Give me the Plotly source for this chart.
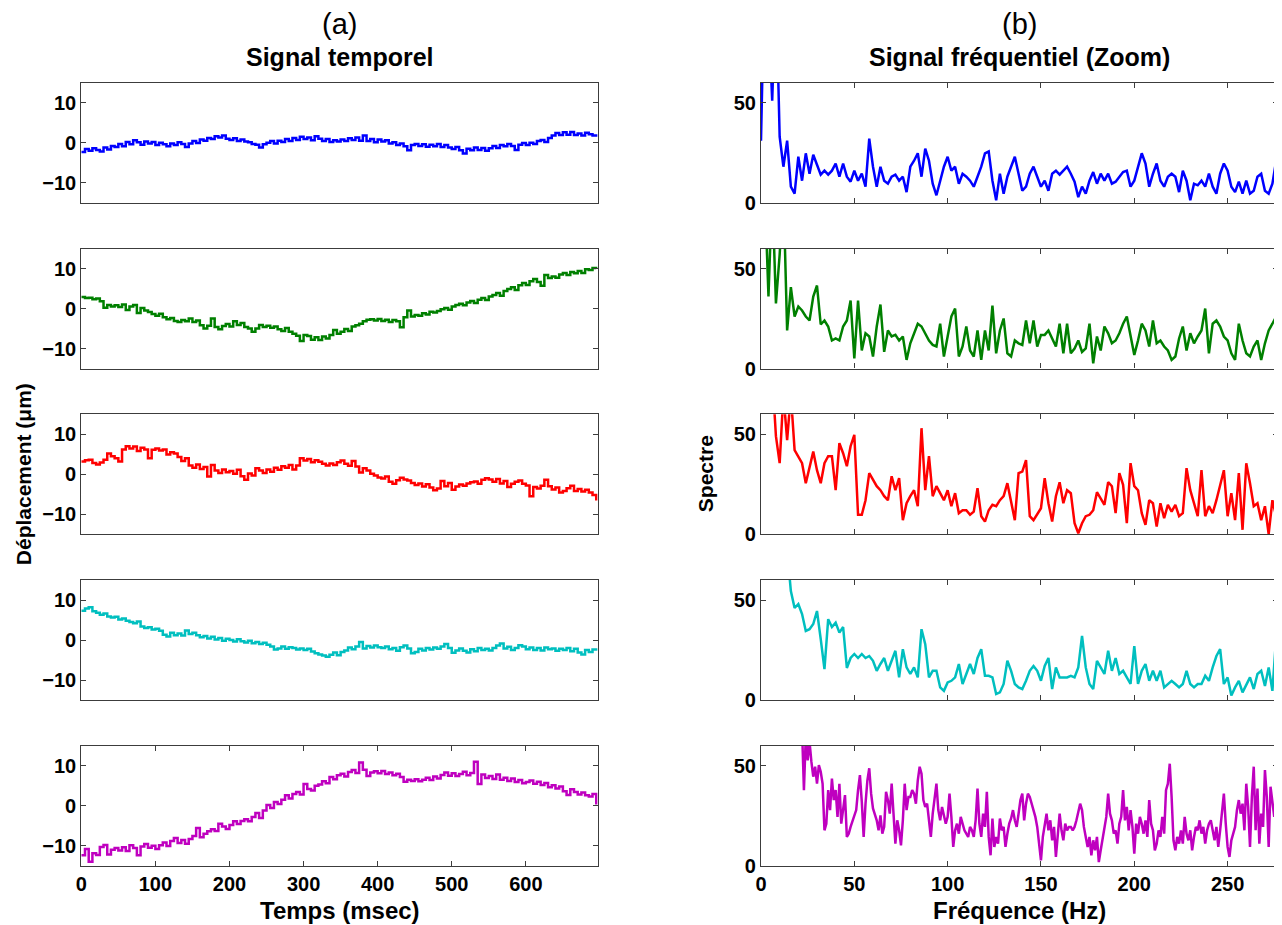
import plotly.graph_objects as go
from plotly.subplots import make_subplots

# --- (a) displacement signals, one sample every 5 ms (µm) ---
disp_blue = [-2.3, -1.6, -2.0, -1.4, -1.8, -2.2, -1.2, -1.7, -0.8, -1.1,
             -0.3, -0.9, 0.2, -0.4, 0.6, 0.1, -0.5, 0.3, -0.2, 0.2,
             -0.6, 0.0, -0.4, -0.9, -0.2, -0.6, 0.1, -0.3, -1.1, -0.2,
             0.4, -0.1, 0.8, 0.5, 1.2, 0.9, 1.6, 1.3, 1.8, 1.0,
             0.7, 1.1, 0.4, 0.8, 0.3, 0.1, -0.3, -0.5, -1.2, -0.4,
             0.0, 0.4, -0.2, 0.5, 0.2, 0.9, 0.4, 1.2, 0.7, 1.5,
             0.9, 1.3, 0.6, 1.6, 1.0, 0.4, 0.9, 0.2, 0.6, 0.3,
             0.8, 0.4, 1.1, 0.7, 1.3, 0.5, 1.8, 0.4, 0.9, 0.1,
             0.8, 0.3, 0.6, -0.2, 0.1, -0.6, -0.2, -0.9, -1.9, -0.6,
             -0.3, -0.8, -0.4, -1.0, -0.5, -0.9, -0.3, -1.1, -0.6, -1.2,
             -1.6, -1.1, -1.9, -2.7, -1.5, -1.9, -1.2, -1.8, -1.3, -2.0,
             -1.4, -0.8, -1.3, -0.6, -0.9, -0.3, -0.8, -1.8, -0.5, -0.1,
             -0.6, 0.0, -0.3, 0.4, 0.7, 0.2, 1.2, 1.8, 2.4, 1.9,
             2.6, 2.0, 2.7, 1.9, 2.3, 1.8, 2.5, 2.1, 1.8, 1.5]

disp_green = [2.9, 2.6, 2.7, 2.3, 2.5, 1.8, 0.2, 0.9, 0.5, 0.8,
              0.4, 1.0, -0.4, 0.5, 0.9, -1.1, 0.1, -0.5, -0.9, -1.4,
              -1.8, -1.3, -2.2, -2.7, -2.4, -3.1, -3.4, -2.9, -3.2, -2.5,
              -3.4, -3.0, -4.2, -5.0, -4.3, -2.5, -4.6, -5.2, -4.4, -3.9,
              -4.5, -3.2, -4.1, -3.6, -4.6, -5.0, -5.8, -5.0, -4.1, -4.6,
              -4.3, -4.8, -4.5, -5.2, -5.6, -4.9, -5.8, -6.3, -6.8, -8.1,
              -6.6, -6.9, -7.8, -7.2, -7.9, -7.0, -7.5, -6.6, -5.4, -6.3,
              -5.8, -5.1, -5.6, -4.5, -4.2, -3.8, -3.2, -2.8, -2.7, -3.0,
              -2.6, -3.1, -2.8, -3.4, -2.9, -3.2, -4.7, -2.2, -0.5, -2.0,
              -1.6, -1.8, -1.2, -1.5, -0.8, -1.0, -0.6, -0.2, 0.1, -0.3,
              0.5, 0.9, 1.2, 0.8, 1.5, 1.9, 1.4, 2.2, 2.6, 2.1,
              3.0, 3.4, 3.9, 3.2, 4.4, 4.9, 5.3, 4.6, 5.8, 6.4,
              5.9, 6.8, 7.4, 6.6, 5.7, 8.4, 7.6, 8.0, 7.7, 8.5,
              8.9, 8.4, 9.1, 8.8, 9.4, 8.9, 9.8, 9.6, 10.1, 10.0]

disp_red = [3.2, 3.5, 3.6, 2.8, 2.4, 2.9, 3.6, 5.2, 4.5, 4.0,
            3.2, 6.2, 7.0, 6.4, 6.9, 5.8, 6.6, 6.2, 4.0, 6.1,
            6.4, 5.9, 6.2, 4.9, 5.5, 5.2, 4.3, 3.3, 4.0, 2.2,
            1.6, 2.4, 1.3, 1.8, -0.6, 2.3, 0.9, 0.3, 1.2, 0.5,
            0.8, 0.1, 1.1, -0.5, -1.4, 0.2, -0.3, 1.5, 0.9, 0.3,
            1.2, 0.6, 1.6, 1.1, 2.0, 1.6, 2.3, 1.2, 2.2, 4.0,
            3.4, 3.8, 3.0, 3.5, 3.1, 2.6, 2.2, 2.7, 2.3, 3.0,
            3.4, 2.6, 2.1, 3.3, 1.9, 0.4, 1.5, 0.9, 0.1, -0.3,
            -0.8, -1.1, -0.6, -1.9, -2.4, -1.5, -0.9, -1.3, -1.6, -2.2,
            -2.7, -2.3, -3.1, -2.5, -3.3, -4.0, -3.6, -1.7, -3.0, -2.2,
            -3.9, -3.1, -2.6, -2.9, -2.3, -2.0, -1.8, -2.4, -1.4, -1.0,
            -1.3, -1.9, -1.2, -2.3, -1.7, -3.2, -2.4, -1.9, -1.6, -2.4,
            -2.8, -5.5, -3.2, -3.6, -2.9, -1.4, -3.0, -3.8, -3.3, -4.6,
            -4.2, -3.5, -2.9, -4.2, -3.7, -4.3, -3.9, -4.6, -5.2, -6.6]

disp_cyan = [7.3, 7.9, 8.2, 7.2, 6.8, 6.3, 6.6, 5.9, 5.6, 5.8,
             5.1, 5.4, 4.8, 4.5, 4.2, 4.6, 3.4, 3.0, 3.2, 2.6,
             2.8, 2.3, 1.3, 0.9, 1.8, 1.2, 1.6, 1.1, 2.4, 1.5,
             1.8, 1.2, 0.7, 1.0, 0.4, 0.8, 0.1, 0.5, -0.2, 0.3,
             0.0, -0.4, 0.2, -0.3, -0.6, -0.2, -0.8, -0.5, -1.0, -0.7,
             -1.2, -1.6, -2.4, -2.1, -1.6, -2.2, -1.8, -2.0, -2.4, -2.1,
             -2.5, -2.2, -2.9, -3.3, -3.6, -3.9, -4.2, -3.7, -3.1, -3.8,
             -3.0, -2.6, -1.9, -2.3, -1.6, -0.5, -2.1, -1.5, -1.9, -1.4,
             -1.8, -2.0, -1.6, -2.3, -2.0, -2.7, -1.8, -1.4, -2.1, -3.3,
             -3.0, -2.2, -2.6, -2.0, -2.4, -1.9, -2.2, -1.6, -1.0, -2.0,
             -3.2, -2.6, -2.1, -2.7, -3.1, -2.3, -2.8, -2.0, -2.5, -2.2,
             -2.6, -2.0, -1.4, -0.9, -2.1, -1.7, -2.5, -2.0, -1.3, -1.6,
             -2.3, -1.9, -2.5, -2.0, -2.6, -1.9, -2.3, -2.1, -2.7, -2.2,
             -2.5, -2.0, -2.8, -2.2, -3.1, -3.6, -2.5, -3.0, -2.4, -2.7]

disp_magenta = [-12.4, -10.8, -14.0, -11.9, -12.3, -10.3, -9.8, -12.2, -11.0, -10.6,
                -11.2, -10.4, -11.3, -9.9, -10.6, -12.4, -10.2, -9.6, -10.5, -10.0,
                -10.8, -9.9, -9.2, -10.1, -8.8, -8.1, -9.3, -8.6, -9.5, -8.3,
                -7.6, -5.6, -7.9, -7.0, -6.4, -5.9, -6.3, -4.5, -5.2, -5.8,
                -4.8, -3.9, -4.6, -3.8, -3.4, -3.9, -2.8, -1.8, -3.1, -1.2,
                0.2, -0.6, 0.9, 0.4, 1.5, 2.6, 1.8, 2.9, 3.4, 2.8,
                5.4, 4.2, 3.8, 5.0, 5.3, 6.1, 5.6, 7.2, 6.6, 7.6,
                8.0, 7.3, 8.4, 8.9, 8.2, 10.8, 9.0, 7.4, 8.3, 8.6,
                8.1, 8.7, 7.9, 8.3, 7.6, 8.0, 7.2, 6.0, 6.5, 6.2,
                6.6, 6.1, 6.5, 7.0, 6.4, 7.3, 6.8, 7.7, 8.3, 7.5,
                8.1, 7.4, 7.9, 8.5, 7.6, 8.2, 11.0, 5.4, 7.8, 6.9,
                7.4, 6.7, 7.8, 6.5, 7.0, 6.2, 6.8, 5.9, 6.4, 5.6,
                5.9, 6.3, 5.5, 6.0, 5.2, 5.7, 4.6, 5.1, 4.3, 4.8,
                3.6, 2.7, 4.1, 3.4, 2.8, 3.3, 2.6, 2.3, 2.9, 0.3]

# --- (b) spectra, one value every 2 Hz (magenta: every 1 Hz) ---
spec_blue = [31, 120, 95, 51, 110, 33, 18, 31, 8, 4.5,
             23, 11, 24.7, 14.5, 24, 19, 14, 16, 14, 16,
             19.6, 13, 19.6, 13, 10.5, 16, 11, 14.5, 8, 32,
             18, 8, 18, 11, 9.5, 13, 14, 11, 13, 5.3,
             18, 21, 24.7, 13, 27, 21, 9.5, 3.7, 11, 18,
             23, 16, 18, 9.5, 14.5, 13, 11, 8, 13, 18,
             24.7, 25.6, 11, 1.2, 14.5, 4.5, 13, 18, 23, 14.5,
             6, 8, 14.5, 18, 13, 8, 11, 6, 14.5, 16,
             14, 16, 18, 14.5, 10.5, 2.8, 8, 4.5, 11, 15.3,
             9.5, 14.5, 11, 14.5, 9.5, 10.5, 13, 15.3, 16, 8,
             11, 18, 24.7, 19.6, 8, 14.5, 19.6, 11, 8, 13,
             14.5, 13, 5.3, 16, 11, 1.2, 9.5, 8.7, 11, 8,
             14.5, 8, 4.5, 14.5, 19.6, 16, 8, 5.3, 10.5, 4.5,
             11, 4.5, 6, 13, 14.5, 6, 4.5, 9.5, 21]

spec_green = [90, 90, 36, 90, 32.5, 57, 90, 19, 40.7, 26,
              31, 29, 26, 24, 36, 41.5, 22, 24, 21, 14,
              15, 14, 21, 24, 34, 5, 34, 9, 17.6, 16,
              6, 21, 32, 8.3, 19, 16, 16.8, 14, 16, 4.3,
              12.6, 17.6, 22.4, 21, 17.6, 14, 11.8, 11, 22.4, 6,
              16, 26, 30, 6, 11, 21, 9, 6, 19, 4.3,
              19, 9, 31.5, 7.6, 19, 25, 7.6, 6, 14, 12.6,
              11.8, 24, 12.6, 24, 11, 16.8, 16.8, 19, 15, 11,
              22.4, 7.6, 22.4, 7.6, 10, 14, 8.3, 10, 22.4, 2.6,
              16, 9, 21, 17.6, 12.6, 14, 17.6, 22.4, 26, 16,
              6.8, 14, 22.4, 19, 11, 24, 12.6, 14, 11, 9,
              4.3, 6, 15, 21, 9, 17.6, 12.6, 16, 19, 30,
              7.6, 22.4, 24, 21, 16, 14, 7.6, 4.3, 22.4, 14,
              7.6, 6, 11, 14, 4.3, 12.6, 19, 22.4, 26]

spec_red = [120, 110, 95, 80, 49, 35.5, 70, 47, 70, 42,
            39, 35.5, 25.5, 34, 41.3, 32, 25.5, 35.5, 39, 39,
            22, 45.5, 40.5, 34, 44, 49.7, 9.7, 9.7, 17, 30.5,
            27, 24, 22, 19, 17, 29, 22, 28, 7, 15.5,
            19, 22, 14, 53, 22, 39, 19, 24, 20.5, 17,
            22, 14, 20.5, 10.5, 12, 12, 9.7, 11.3, 23, 9,
            6.3, 12, 14.7, 14, 17, 19, 25.5, 17, 7, 30.5,
            31.3, 37, 9, 7, 9.7, 13, 28, 15.5, 6.3, 19,
            26, 15.5, 22, 20.5, 5.5, 0.5, 5.5, 9, 9.7, 12,
            21, 18, 14.7, 26, 24, 10.5, 30.5, 24.7, 5.5, 35.5,
            24, 22, 10.5, 4.7, 17, 15.5, 3.8, 15.5, 8, 14.7,
            11.3, 14.7, 9, 10.5, 33, 22, 15.5, 9, 32, 9,
            14, 10.5, 17, 24, 32, 9, 20.5, 7, 30.5, 2.2,
            35.5, 25.5, 14, 15.5, 7, 14, 0, 17, 9]

spec_cyan = [150, 140, 130, 120, 110, 100, 90, 75, 54.5, 46,
             48, 43, 34.5, 35.4, 38, 44.5, 30.4, 15.4, 40.4, 36.5,
             38.7, 33.7, 36.5, 16, 21, 23, 21, 23, 21, 22,
             19.6, 14.6, 18, 21, 14.6, 19.6, 24.6, 11.3, 25.4, 16.3,
             13, 16.3, 11.3, 35.4, 27.9, 11.3, 14.6, 14.6, 6.3, 4.6,
             8.8, 9.6, 11.3, 18, 8, 13, 18, 13, 21, 25.4,
             12.1, 12.1, 11.3, 3, 3.8, 8, 19.6, 14.6, 8, 6.3,
             5.5, 9.6, 14.6, 17, 14.6, 9.6, 17, 21, 5.5, 16.3,
             11.3, 11.3, 11.3, 12.1, 11.3, 16.3, 32, 16.3, 8, 5.5,
             19.6, 16.3, 13, 24.6, 14.6, 21, 13, 14.6, 11.3, 8,
             27, 8, 14.6, 18, 9.6, 14.6, 9.6, 14.6, 6.3, 8,
             9.6, 8, 6.3, 8, 14.6, 8, 6.3, 8, 8, 12.1,
             9.6, 16.3, 22, 25.4, 8, 11.3, 2.2, 6.3, 9.6, 3.8,
             8, 11.3, 5.5, 13, 14.6, 7, 16.3, 4.6, 31]

spec_magenta = [160, 155, 150, 145, 140, 135, 130, 125, 120, 115,
                110, 105, 100, 96, 92, 88, 85, 82, 79, 76,
                73, 70, 68, 37.8, 65, 52.7, 62, 52, 44.5, 49.5,
                41, 50.3, 47, 41, 17.7, 21, 37.8, 27.8, 43.6, 32.8,
                37.8, 24.4, 41, 21, 29.4, 35.3, 14.4, 16, 19.4, 21.9,
                24.4, 27.8, 37.8, 45.3, 32, 14.4, 31, 42.6, 48.7, 36,
                28.6, 26, 22.7, 17.7, 25.2, 16, 19.4, 37, 32.8, 26,
                41, 26, 11, 22.7, 17.7, 10.2, 22.7, 41, 27.8, 34.4,
                34.4, 37.8, 36, 31, 42.6, 49.5, 46, 32.8, 29.4, 31,
                22.7, 14.4, 26, 34.4, 41, 27.8, 22.7, 29.4, 24.4, 21,
                24.4, 36, 24.4, 9.4, 17.7, 21, 16, 24.4, 21, 17.7,
                16, 14.4, 19.4, 17.7, 14.4, 22.7, 38.6, 21, 14.4, 26,
                19.4, 37, 14.4, 5.2, 23.6, 9.4, 14.4, 11, 23.6, 17.7,
                19.4, 9.4, 16, 21, 23.6, 27.8, 22.7, 19.4, 26, 32.8,
                36, 22.7, 31, 36, 34.4, 31, 27.8, 24.4, 19.4, 9.4,
                2.7, 14.4, 21, 26, 17.7, 22.7, 12.7, 19.4, 4.4, 16,
                26, 17.7, 12.7, 21, 17.7, 19.4, 19.4, 17.7, 19.4, 22.7,
                27.8, 31, 27.8, 19.4, 14.4, 9.4, 14.4, 5.2, 12.7, 7.7,
                14.4, 1.8, 7.7, 12.7, 19.4, 24.4, 36, 26, 22.7, 16,
                17.7, 11, 21, 24.4, 37.8, 22.7, 29.4, 17.7, 27.8, 19.4,
                6, 21, 16, 24.4, 21, 16, 22.7, 14.4, 32.8, 21,
                17.7, 7.7, 11, 17.7, 14.4, 24.4, 16, 37.8, 41, 51,
                34.4, 12.7, 7.7, 14.4, 11, 17.7, 11, 24.4, 16, 12.7,
                17.7, 7.7, 14.4, 19.4, 17.7, 22.7, 16, 19.4, 11, 17.7,
                21, 22.7, 17.7, 12.7, 19.4, 9.4, 17.7, 27.8, 36, 21,
                9.4, 4.4, 12.7, 16, 19.4, 27.8, 32.8, 26, 31, 17.7,
                41, 29.4, 9.4, 34.4, 49.5, 17.7, 38.6, 11, 26, 19.4,
                47.8, 34.4, 9.4, 39.5, 31, 24.4, 34.4]

colors = ['#0000ff', '#008000', '#ff0000', '#00bfbf', '#bf00bf']
disp = [disp_blue, disp_green, disp_red, disp_cyan, disp_magenta]
spec = [spec_blue, spec_green, spec_red, spec_cyan, spec_magenta]
spec_step = [2, 2, 2, 2, 1]

# the page body adds an 8 px margin, so the figure is drawn 8 px smaller
# and every position below is given in window pixels minus that offset
OFF = 8
W, H = 1282 - OFF, 925 - OFF
FONT = 'Liberation Sans, Arial, Helvetica, sans-serif'
AXC = '#3c3c3c'

def px_x(p):
    return (p - OFF) / W

def px_y(p):
    return 1 - (p - OFF) / H

# row centres in window pixels (from top), each panel 120 px tall
row_c = [142.7, 308.5, 474.2, 640.0, 805.7]
left_x = [px_x(81.3), px_x(597.7)]
right_x = [px_x(761), px_x(1278)]

fig = make_subplots(rows=5, cols=2)

for i in range(5):
    t = [5 * k for k in range(len(disp[i]))]
    f = [spec_step[i] * k for k in range(len(spec[i]))]
    fig.add_trace(go.Scatter(x=t, y=disp[i], mode='lines', line_shape='hv',
                             line=dict(color=colors[i], width=2.5), showlegend=False),
                  row=i + 1, col=1)
    fig.add_trace(go.Scatter(x=f, y=spec[i], mode='lines',
                             line=dict(color=colors[i], width=2.5), showlegend=False),
                  row=i + 1, col=2)

    dom = [px_y(row_c[i] + 60), px_y(row_c[i] - 60)]
    base = dict(showline=True, linecolor=AXC, linewidth=1.2, showgrid=False, zeroline=False,
                ticks='inside', ticklen=5, tickcolor=AXC, tickwidth=1.2, automargin=False,
                tickfont=dict(family=FONT, size=20, color='black', weight='bold'))
    last = (i == 4)
    # left column
    fig.update_yaxes(domain=dom, range=[-15, 15], tickvals=[-10, 0, 10], mirror='ticks',
                     row=i + 1, col=1, **base)
    if last:
        fig.update_xaxes(domain=left_x, range=[0, 697], tickvals=[0, 100, 200, 300, 400, 500, 600],
                         mirror='ticks', row=i + 1, col=1, **base)
    else:
        b = dict(base, ticks='')
        fig.update_xaxes(domain=left_x, range=[0, 697], mirror=True, showticklabels=False,
                         row=i + 1, col=1, **b)
    # right column
    fig.update_yaxes(domain=dom, range=[0, 60], tickvals=[0, 50], mirror='ticks',
                     row=i + 1, col=2, **base)
    fig.update_xaxes(domain=right_x, range=[0, 277], tickvals=[0, 50, 100, 150, 200, 250],
                     mirror='ticks', showticklabels=last, row=i + 1, col=2, **base)

def label(text, x, y, size, angle=0):
    fig.add_annotation(text=text, x=px_x(x), y=px_y(y), xref='paper', yref='paper',
                       showarrow=False, textangle=angle, xanchor='center', yanchor='middle',
                       font=dict(family=FONT, size=size, color='black'))

label('(a)', 339.5, 24, 29)
label('(b)', 1019.5, 24, 29)
label('<b>Signal temporel</b>', 339.5, 57, 25)
label('<b>Signal fréquentiel (Zoom)</b>', 1019.5, 57, 25)
label('<b>Temps (msec)</b>', 339.5, 910, 24)
label('<b>Fréquence (Hz)</b>', 1019.5, 910, 24)
label('<b>Déplacement (μm)</b>', 23, 474.2, 21, -90)
label('<b>Spectre</b>', 705, 474.2, 21, -90)

fig.update_layout(width=W, height=H, margin=dict(l=0, r=0, t=0, b=0),
                  plot_bgcolor='white', paper_bgcolor='white')

fig.write_html("out.html")
